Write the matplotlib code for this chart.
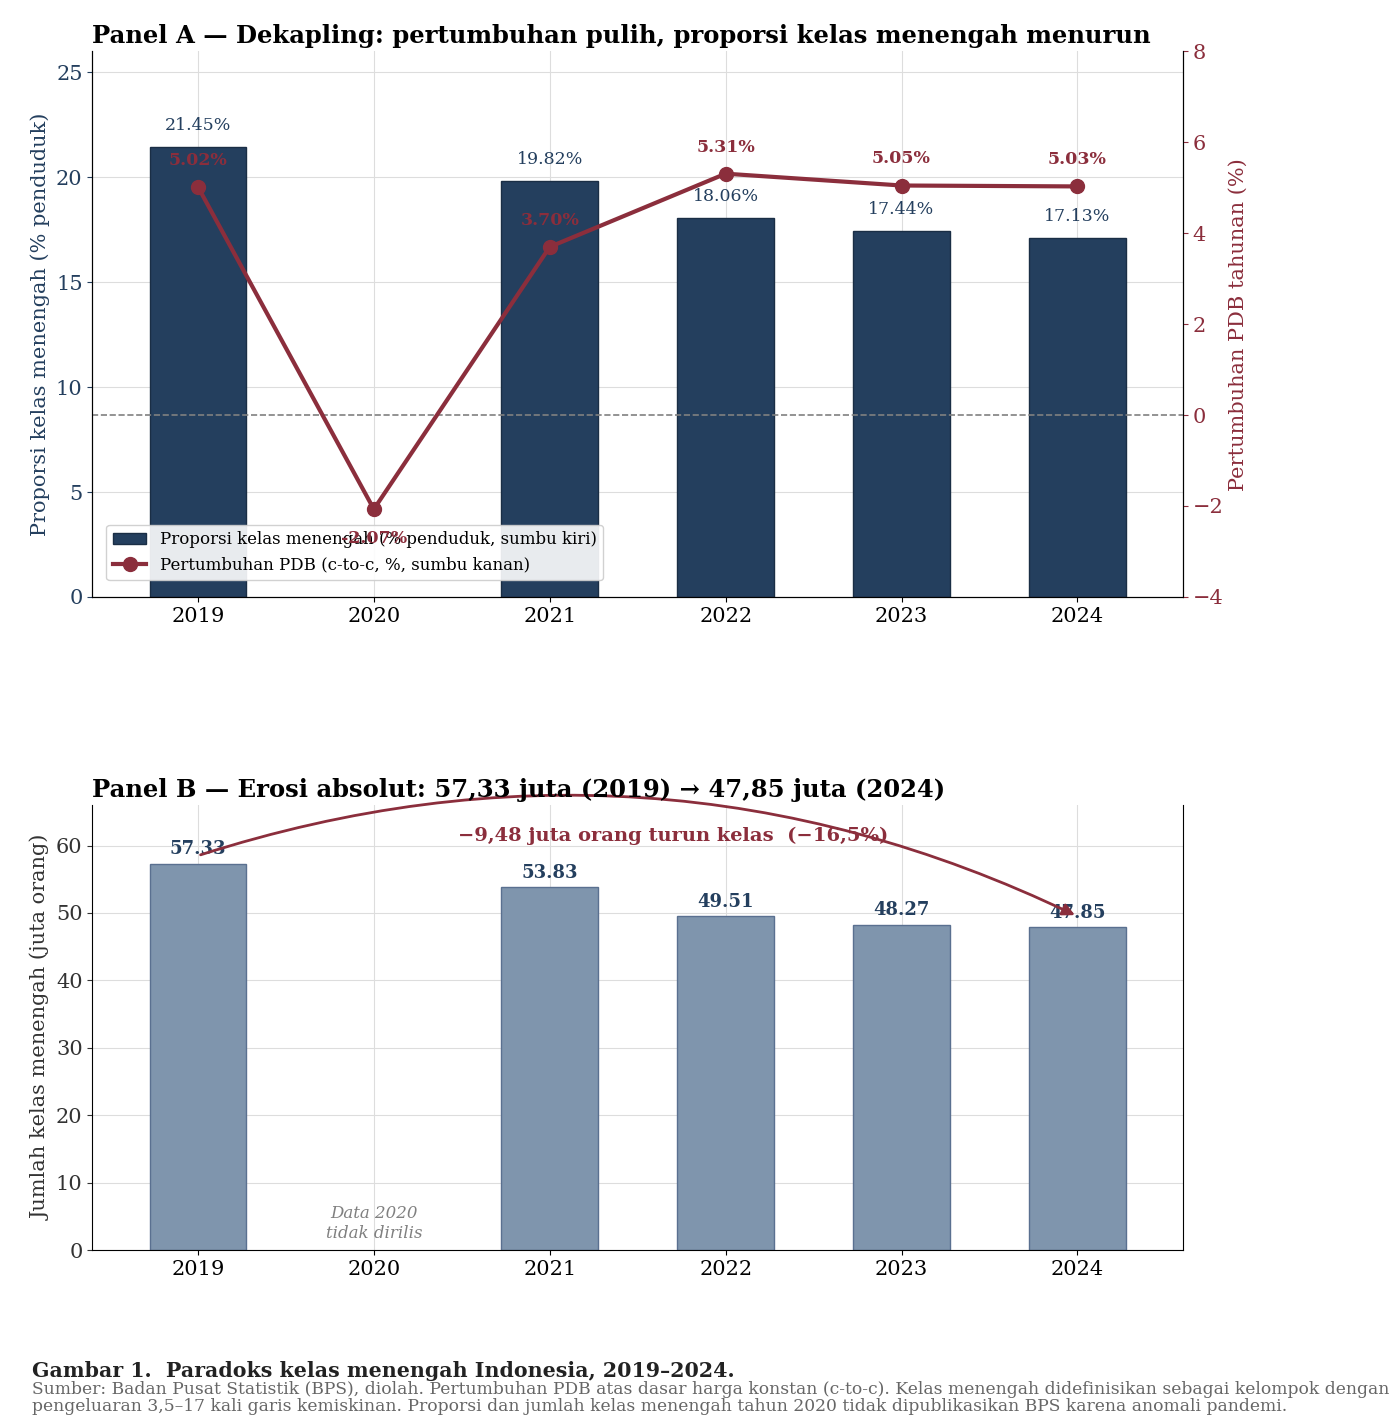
import numpy as np
import matplotlib.pyplot as plt

plt.rcParams['font.family'] = ['DejaVu Serif']

years = ["2019", "2020", "2021", "2022", "2023", "2024"]
share_mid = [21.45, np.nan, 19.82, 18.06, 17.44, 17.13]
gdp_growth = [5.02, -2.07, 3.70, 5.31, 5.05, 5.03]
count_mid = [57.33, np.nan, 53.83, 49.51, 48.27, 47.85]

navy = "#243f5e"
red = "#8b2e3c"
steel = "#7f95ad"

fig = plt.figure(figsize=(14, 14.28), dpi=100)
x = np.arange(len(years))

# Panel A
ax = fig.add_axes([0.066, 0.582, 0.779, 0.382])
ax.bar(x, share_mid, width=0.55, color=navy, edgecolor="#1a2e45", zorder=2,
       label="Proporsi kelas menengah (% penduduk, sumbu kiri)")
for xi, v in zip(x, share_mid):
    if not np.isnan(v):
        ax.text(xi, v + 0.6, f"{v:.2f}%", ha="center", va="bottom", color=navy, fontsize=12.5)
ax.set_ylim(0, 26)
ax.set_xlim(-0.6, 5.6)
ax.set_xticks(x)
ax.set_xticklabels(years, fontsize=15)
ax.set_ylabel("Proporsi kelas menengah (% penduduk)", color=navy, fontsize=15)
ax.tick_params(axis="y", colors=navy, labelsize=15)
ax.grid(True, color="#dddddd", zorder=0)
ax.set_axisbelow(True)
ax.spines["top"].set_visible(False)
ax.set_title("Panel A — Dekapling: pertumbuhan pulih, proporsi kelas menengah menurun",
             loc="left", fontweight="bold", fontsize=17.5)

ax2 = ax.twinx()
ax2.plot(x, gdp_growth, color=red, lw=3, marker="o", ms=10, zorder=3,
         label="Pertumbuhan PDB (c-to-c, %, sumbu kanan)")
ax2.axhline(0, color="gray", ls="--", lw=1.2)
for xi, v in zip(x, gdp_growth):
    if v < 0:
        ax2.text(xi, v - 0.45, f"{v:.2f}%", ha="center", va="top", color=red,
                 fontsize=12.5, fontweight="bold", zorder=10)
    else:
        ax2.text(xi, v + 0.4, f"{v:.2f}%", ha="center", va="bottom", color=red,
                 fontsize=12.5, fontweight="bold", zorder=10)
ax2.set_ylim(-4, 8)
ax2.set_ylabel("Pertumbuhan PDB tahunan (%)", color=red, fontsize=15)
ax2.tick_params(axis="y", colors=red, labelsize=15)
ax2.spines["top"].set_visible(False)

h1, l1 = ax.get_legend_handles_labels()
h2, l2 = ax2.get_legend_handles_labels()
leg = ax2.legend(h1 + h2, l1 + l2, loc="lower left", bbox_to_anchor=(0.005, 0.015),
                 fontsize=12, framealpha=0.9)
leg.set_zorder(5)

# Panel B
bx = fig.add_axes([0.066, 0.1246, 0.779, 0.3116])
bx.bar(x, count_mid, width=0.55, color=steel, edgecolor="#5a7090", zorder=2)
for xi, v in zip(x, count_mid):
    if not np.isnan(v):
        bx.text(xi, v + 0.8, f"{v:.2f}", ha="center", va="bottom", color=navy,
                fontsize=13, fontweight="bold")
bx.text(1, 1.2, "Data 2020\ntidak dirilis", ha="center", va="bottom", color="gray",
        fontsize=12, style="italic")
bx.annotate("", xy=(5, 49.5), xytext=(0, 58.5),
            arrowprops=dict(arrowstyle="-|>", color=red, lw=2, mutation_scale=18,
                            connectionstyle="arc3,rad=-0.2"),
            annotation_clip=False)
bx.text(2.7, 61.5, "−9,48 juta orang turun kelas  (−16,5%)", ha="center", va="center",
        color=red, fontsize=14, fontweight="bold")
bx.set_ylim(0, 66)
bx.set_xlim(-0.6, 5.6)
bx.set_xticks(x)
bx.set_xticklabels(years, fontsize=15)
bx.set_yticks(range(0, 61, 10))
bx.tick_params(axis="y", labelsize=15, colors="#333333")
bx.set_ylabel("Jumlah kelas menengah (juta orang)", color="#333333", fontsize=15)
bx.grid(True, color="#dddddd", zorder=0)
bx.set_axisbelow(True)
bx.spines["top"].set_visible(False)
bx.set_title("Panel B — Erosi absolut: 57,33 juta (2019) → 47,85 juta (2024)",
             loc="left", fontweight="bold", fontsize=17.5)

fig.text(0.023, 0.036, "Gambar 1.  Paradoks kelas menengah Indonesia, 2019–2024.",
         fontweight="bold", fontsize=14.8, color="#222222")
fig.text(0.023, 0.012,
         "Sumber: Badan Pusat Statistik (BPS), diolah. Pertumbuhan PDB atas dasar harga konstan (c-to-c). "
         "Kelas menengah didefinisikan sebagai kelompok dengan\n"
         "pengeluaran 3,5–17 kali garis kemiskinan. Proporsi dan jumlah kelas menengah tahun 2020 "
         "tidak dipublikasikan BPS karena anomali pandemi.",
         fontsize=12.3, color="#666666", linespacing=1.0)

fig.savefig("out.png", dpi=100)
